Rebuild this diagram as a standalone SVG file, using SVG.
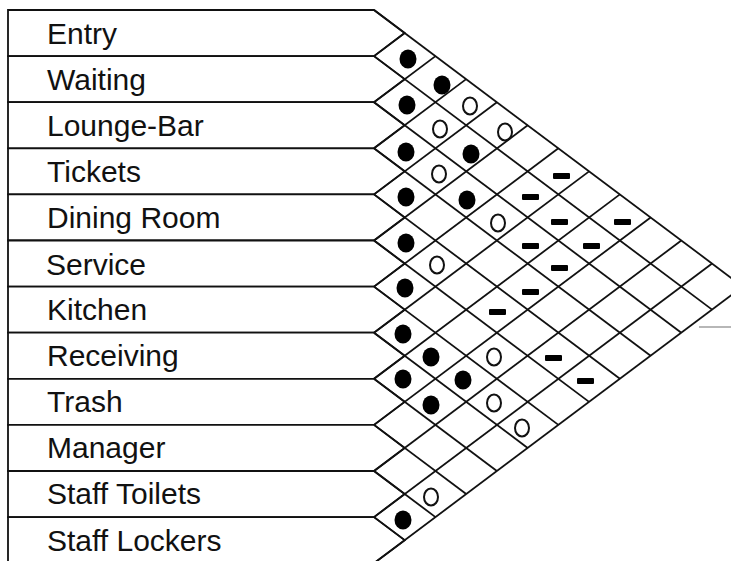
<svg xmlns="http://www.w3.org/2000/svg" width="731" height="561" viewBox="0 0 731 561">
<style>
.row{fill:#fff;stroke:#111;stroke-width:1.8;stroke-linejoin:miter}
.lbl{font-family:"Liberation Sans",Arial,sans-serif;font-size:30px;fill:#111}
.g line{stroke:#111;stroke-width:1.8}
.f{fill:#000}
.o{fill:none;stroke:#111;stroke-width:2}
.d{fill:#000}
</style>
<rect width="731" height="561" fill="#fff"/>
<g id="rows">
<g id="entry"><polygon class="row" points="8,10 374,10 404.7,33.05 374,56.1 8,56.1"/><text class="lbl" x="47" y="44">Entry</text></g>
<g id="waiting"><polygon class="row" points="8,56.1 374,56.1 404.7,79.15 374,102.2 8,102.2"/><text class="lbl" x="47" y="90">Waiting</text></g>
<g id="lounge-bar"><polygon class="row" points="8,102.2 374,102.2 404.7,125.25 374,148.3 8,148.3"/><text class="lbl" x="47" y="136">Lounge-Bar</text></g>
<g id="tickets"><polygon class="row" points="8,148.3 374,148.3 404.7,171.35 374,194.4 8,194.4"/><text class="lbl" x="47" y="182">Tickets</text></g>
<g id="dining-room"><polygon class="row" points="8,194.4 374,194.4 404.7,217.45 374,240.5 8,240.5"/><text class="lbl" x="47" y="228">Dining Room</text></g>
<g id="service"><polygon class="row" points="8,240.5 374,240.5 404.7,263.55 374,286.6 8,286.6"/><text class="lbl" x="46" y="275">Service</text></g>
<g id="kitchen"><polygon class="row" points="8,286.6 374,286.6 404.7,309.65 374,332.7 8,332.7"/><text class="lbl" x="47" y="320">Kitchen</text></g>
<g id="receiving"><polygon class="row" points="8,332.7 374,332.7 404.7,355.75 374,378.8 8,378.8"/><text class="lbl" x="47" y="366">Receiving</text></g>
<g id="trash"><polygon class="row" points="8,378.8 374,378.8 404.7,401.85 374,424.9 8,424.9"/><text class="lbl" x="47" y="412">Trash</text></g>
<g id="manager"><polygon class="row" points="8,424.9 374,424.9 404.7,447.95 374,471 8,471"/><text class="lbl" x="47" y="458">Manager</text></g>
<g id="staff-toilets"><polygon class="row" points="8,471 374,471 404.7,494.05 374,517.1 8,517.1"/><text class="lbl" x="47" y="504">Staff Toilets</text></g>
<g id="staff-lockers"><polygon class="row" points="8,517.1 374,517.1 404.7,540.15 374,563.2 8,563.2"/><text class="lbl" x="47" y="551">Staff Lockers</text></g>
</g>
<g id="connectors" class="g">
<line x1="374" y1="10" x2="742.8" y2="286.6"/>
<line x1="374" y1="56.1" x2="712.1" y2="309.65"/>
<line x1="374" y1="102.2" x2="681.3" y2="332.7"/>
<line x1="374" y1="148.3" x2="650.6" y2="355.75"/>
<line x1="374" y1="194.4" x2="619.9" y2="378.8"/>
<line x1="374" y1="240.5" x2="589.1" y2="401.85"/>
<line x1="374" y1="286.6" x2="558.4" y2="424.9"/>
<line x1="374" y1="332.7" x2="527.7" y2="447.95"/>
<line x1="374" y1="378.8" x2="496.9" y2="471"/>
<line x1="374" y1="424.9" x2="466.2" y2="494.05"/>
<line x1="374" y1="471" x2="435.5" y2="517.1"/>
<line x1="374" y1="517.1" x2="404.7" y2="540.15"/>
<line x1="374" y1="56.1" x2="404.7" y2="33.05"/>
<line x1="374" y1="102.2" x2="435.5" y2="56.1"/>
<line x1="374" y1="148.3" x2="466.2" y2="79.15"/>
<line x1="374" y1="194.4" x2="496.9" y2="102.2"/>
<line x1="374" y1="240.5" x2="527.7" y2="125.25"/>
<line x1="374" y1="286.6" x2="558.4" y2="148.3"/>
<line x1="374" y1="332.7" x2="589.1" y2="171.35"/>
<line x1="374" y1="378.8" x2="619.9" y2="194.4"/>
<line x1="374" y1="424.9" x2="650.6" y2="217.45"/>
<line x1="374" y1="471" x2="681.3" y2="240.5"/>
<line x1="374" y1="517.1" x2="712.1" y2="263.55"/>
<line x1="374" y1="563.2" x2="742.8" y2="286.6"/>
<line x1="699" y1="327" x2="731" y2="327" style="stroke:#888;stroke-width:1.2"/>
</g>
<g id="marks">
<ellipse class="f" cx="408" cy="59" rx="8.5" ry="9.5"/>
<ellipse class="f" cx="442" cy="85" rx="8.5" ry="9.5"/>
<ellipse class="f" cx="407" cy="105" rx="8.5" ry="9.5"/>
<ellipse class="o" cx="470" cy="106" rx="7" ry="8.5"/>
<ellipse class="o" cx="440" cy="129" rx="7" ry="8.5"/>
<ellipse class="o" cx="505" cy="132" rx="7" ry="8.5"/>
<ellipse class="f" cx="406" cy="152" rx="8.5" ry="9.5"/>
<ellipse class="f" cx="471" cy="154" rx="8.5" ry="9.5"/>
<ellipse class="o" cx="439" cy="174" rx="7" ry="8.5"/>
<rect class="d" x="553" y="173" width="17" height="6" rx="1"/>
<ellipse class="f" cx="406" cy="197" rx="8.5" ry="9.5"/>
<ellipse class="f" cx="467" cy="200" rx="8.5" ry="9.5"/>
<rect class="d" x="522" y="194" width="17" height="6" rx="1"/>
<ellipse class="o" cx="498" cy="223" rx="7" ry="8.5"/>
<rect class="d" x="551" y="219" width="17" height="6" rx="1"/>
<rect class="d" x="614" y="219" width="17" height="6" rx="1"/>
<ellipse class="f" cx="406" cy="243" rx="8.5" ry="9.5"/>
<rect class="d" x="522" y="243" width="17" height="6" rx="1"/>
<rect class="d" x="583" y="243" width="17" height="6" rx="1"/>
<ellipse class="o" cx="437" cy="265" rx="7" ry="8.5"/>
<rect class="d" x="551" y="265" width="17" height="6" rx="1"/>
<ellipse class="f" cx="405" cy="288" rx="8.5" ry="9.5"/>
<rect class="d" x="522" y="289" width="17" height="6" rx="1"/>
<rect class="d" x="489" y="309" width="17" height="6" rx="1"/>
<ellipse class="f" cx="403" cy="334" rx="8.5" ry="9.5"/>
<ellipse class="f" cx="431" cy="357" rx="8.5" ry="9.5"/>
<ellipse class="o" cx="494" cy="357" rx="7" ry="8.5"/>
<rect class="d" x="545" y="355" width="17" height="6" rx="1"/>
<ellipse class="f" cx="403" cy="379" rx="8.5" ry="9.5"/>
<ellipse class="f" cx="463" cy="380" rx="8.5" ry="9.5"/>
<rect class="d" x="577" y="378" width="17" height="6" rx="1"/>
<ellipse class="f" cx="431" cy="405" rx="8.5" ry="9.5"/>
<ellipse class="o" cx="494" cy="403" rx="7" ry="8.5"/>
<ellipse class="o" cx="522" cy="428" rx="7" ry="8.5"/>
<ellipse class="o" cx="431" cy="497" rx="7" ry="8.5"/>
<ellipse class="f" cx="403" cy="520" rx="8.5" ry="9.5"/>
</g>
</svg>
